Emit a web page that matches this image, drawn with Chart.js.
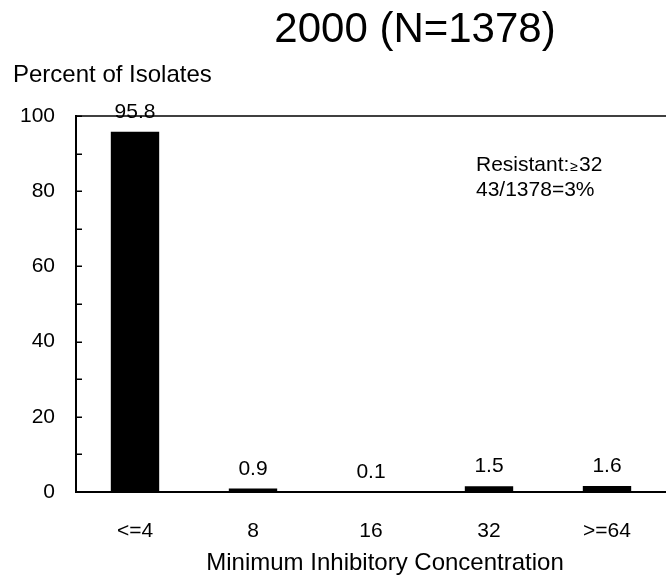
<!DOCTYPE html>
<html>
<head>
<meta charset="utf-8">
<style>
  html, body { margin: 0; padding: 0; background: #ffffff; }
  #wrap { width: 666px; height: 575px; position: relative; }
</style>
<script src="https://cdn.jsdelivr.net/npm/chart.js@4/dist/chart.umd.min.js"></script>
</head>
<body>
<div id="wrap"><canvas id="c" width="666" height="575"></canvas></div>
<script>
// ---- data ----
const categories = ['<=4', '8', '16', '32', '>=64'];
const percentValues = [95.8, 0.9, 0.1, 1.5, 1.6];
const yTickValues = [0, 20, 40, 60, 80, 100];
const titleText = '2000 (N=1378)';
const yTitleText = 'Percent of Isolates';
const xTitleText = 'Minimum Inhibitory Concentration';
const noteLine1 = ['Resistant:', '\u2265', '32'];
const noteLine2 = '43/1378=3%';

const FONT = '"Liberation Sans", Arial, Helvetica, sans-serif';

const decorPlugin = {
  id: 'decor',
  afterDraw(chart) {
    const ctx = chart.ctx;
    const area = chart.chartArea;
    const ys = chart.scales.y;
    ctx.save();
    // top frame line
    ctx.strokeStyle = '#000';
    ctx.lineWidth = 1.5;
    ctx.beginPath();
    ctx.moveTo(area.left, area.top);
    ctx.lineTo(area.right, area.top);
    ctx.stroke();
    // inward tick marks every 10
    for (let v = 0; v <= 100; v += 10) {
      const py = Math.round(ys.getPixelForValue(v)) + 0.25;
      ctx.beginPath();
      ctx.moveTo(area.left, py);
      ctx.lineTo(area.left + 6, py);
      ctx.stroke();
    }
    ctx.fillStyle = '#000';
    ctx.textBaseline = 'alphabetic';
    // title
    ctx.textAlign = 'center';
    ctx.font = '42px ' + FONT;
    ctx.fillText(titleText, 415, 42);
    // x title
    ctx.font = '24px ' + FONT;
    ctx.fillText(xTitleText, 385, 570);
    // y title
    ctx.textAlign = 'left';
    ctx.font = '24px ' + FONT;
    ctx.fillText(yTitleText, 13, 82);
    // annotation
    let x = 476;
    ctx.font = '21px ' + FONT;
    ctx.fillText(noteLine1[0], x, 171);
    x += ctx.measureText(noteLine1[0]).width + 1;
    ctx.font = '14px ' + FONT;
    ctx.fillText(noteLine1[1], x, 171);
    x += ctx.measureText(noteLine1[1]).width + 1;
    ctx.font = '21px ' + FONT;
    ctx.fillText(noteLine1[2], x, 171);
    ctx.fillText(noteLine2, 476, 196);
    ctx.restore();
  },
  afterDatasetsDraw(chart) {
    const ctx = chart.ctx;
    const meta = chart.getDatasetMeta(0);
    ctx.save();
    ctx.fillStyle = '#000';
    ctx.font = '21px ' + FONT;
    ctx.textAlign = 'center';
    ctx.textBaseline = 'alphabetic';
    meta.data.forEach((bar, i) => {
      ctx.fillText(percentValues[i].toFixed(1), bar.x, bar.y - 14);
    });
    ctx.restore();
  }
};

new Chart(document.getElementById('c'), {
  type: 'bar',
  data: {
    labels: categories,
    datasets: [{
      data: percentValues,
      backgroundColor: '#000000',
      borderWidth: 0,
      barPercentage: 0.41,
      categoryPercentage: 1.0
    }]
  },
  options: {
    responsive: false,
    animation: false,
    layout: { padding: { top: 116, left: 0, right: 0, bottom: 0 } },
    plugins: { legend: { display: false }, tooltip: { enabled: false }, title: { display: false } },
    scales: {
      x: {
        grid: { display: false, drawTicks: false },
        border: { display: true, color: '#000', width: 2 },
        ticks: { color: '#000', font: { family: FONT, size: 21 }, padding: 27, maxRotation: 0 },
        title: { display: false },
        afterFit(scale) { scale.height = 83; }
      },
      y: {
        min: 0, max: 100,
        afterBuildTicks(scale) { scale.ticks = yTickValues.map(v => ({ value: v })); },
        grid: { display: false, drawTicks: false },
        border: { display: true, color: '#000', width: 2 },
        ticks: { color: '#000', font: { family: FONT, size: 21 }, padding: 21 },
        afterFit(scale) { scale.width = 76; }
      }
    }
  },
  plugins: [decorPlugin]
});
</script>
</body>
</html>
